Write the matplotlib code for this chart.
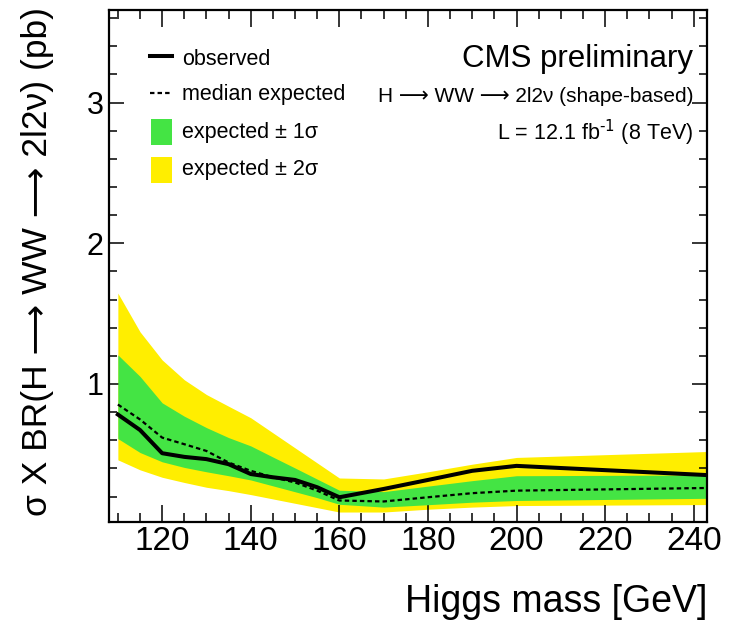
import matplotlib
matplotlib.use("Agg")
import matplotlib.pyplot as plt
from matplotlib.lines import Line2D
from matplotlib.patches import Rectangle
from matplotlib.ticker import MultipleLocator

# ---------------- data ----------------
mass = [110, 115, 120, 125, 130, 135, 140, 145, 150, 155, 160, 170, 180, 190, 200, 250]
observed = [0.783, 0.673, 0.508, 0.482, 0.466, 0.430, 0.360, 0.337, 0.318, 0.266, 0.195,
            0.254, 0.318, 0.383, 0.418, 0.342]
expected = [0.854, 0.748, 0.619, 0.572, 0.524, 0.442, 0.383, 0.337, 0.300, 0.242, 0.172,
            0.165, 0.195, 0.224, 0.242, 0.264]
plus2 = [1.646, 1.371, 1.171, 1.030, 0.925, 0.842, 0.760, 0.653, 0.546, 0.439, 0.332,
         0.325, 0.376, 0.430, 0.478, 0.527]
plus1 = [1.207, 1.054, 0.866, 0.771, 0.690, 0.619, 0.560, 0.481, 0.403, 0.324, 0.245,
         0.235, 0.274, 0.313, 0.348, 0.354]
minus1 = [0.612, 0.513, 0.447, 0.407, 0.376, 0.348, 0.318, 0.276, 0.234, 0.192, 0.145,
          0.125, 0.142, 0.160, 0.172, 0.190]
minus2 = [0.461, 0.390, 0.337, 0.300, 0.266, 0.242, 0.214, 0.183, 0.152, 0.121, 0.090,
          0.090, 0.110, 0.125, 0.136, 0.144]

legend_labels = ["observed", "median expected", "expected \u00b1 1\u03c3", "expected \u00b1 2\u03c3"]
xlabel = "Higgs mass [GeV]"
ylabel = "\u03c3 X BR(H \u27f6 WW \u27f6 2l2\u03bd) (pb)"
title_main = "CMS preliminary"
title_proc = "H \u27f6 WW \u27f6 2l2\u03bd (shape-based)"
title_lumi = "L = 12.1 fb$^{\\text{-1}}$ (8 TeV)"

GREEN = "#44E444"
YELLOW = "#FFEE00"

# ---------------- fonts ----------------
plt.rcParams["font.family"] = ["Liberation Sans", "DejaVu Sans"]
plt.rcParams["mathtext.default"] = "regular"

W, H = 730, 621
fig = plt.figure(figsize=(W / 100, H / 100), dpi=100)
L, R, T, B = 109, 707, 10, 522.3
ax = fig.add_axes([L / W, 1 - B / H, (R - L) / W, (B - T) / H])

ax.fill_between(mass, minus2, plus2, color=YELLOW, lw=0, zorder=1)
ax.fill_between(mass, minus1, plus1, color=GREEN, lw=0, zorder=2)
ax.plot(mass, expected, color="black", lw=1.6, ls=(0, (2, 1.4)), zorder=3)
ax.plot(mass, observed, color="black", lw=2.9, zorder=4)

ax.set_xlim(108, 243)
ax.set_ylim(0.017, 3.658)

ax.xaxis.set_major_locator(MultipleLocator(20))
ax.xaxis.set_minor_locator(MultipleLocator(5))
ax.yaxis.set_major_locator(MultipleLocator(1))
ax.yaxis.set_minor_locator(MultipleLocator(0.2))
ax.tick_params(axis="both", which="both", direction="in", top=True, right=True, width=1.1)
ax.tick_params(axis="x", which="major", length=12.5, pad=3, labelsize=24)
ax.tick_params(axis="x", which="minor", length=6.5)
ax.tick_params(axis="y", which="major", length=11, pad=4, labelsize=22)
ax.tick_params(axis="y", which="minor", length=5.5)
for s in ax.spines.values():
    s.set_linewidth(1.6)

fig.text(R / W, 1 - 612 / H, xlabel, ha="right", va="baseline", fontsize=27)
fig.text(38 / W, 1 - 262 / H, ylabel, ha="center", va="center", rotation=90, fontsize=25.5)

# titles
fig.text(693 / W, 1 - 66.7 / H, title_main, ha="right", va="baseline", fontsize=22.5)
fig.text(693 / W, 1 - 101.7 / H, title_proc, ha="right", va="baseline", fontsize=15)
fig.text(693 / W, 1 - 140 / H, title_lumi, ha="right", va="baseline", fontsize=15.5)

# legend (manual)
tf = fig.transFigure
fig.add_artist(Line2D([150 / W, 172 / W], [1 - 56 / H] * 2, color="black", lw=2.9, transform=tf))
fig.add_artist(Line2D([150 / W, 172 / W], [1 - 93.3 / H] * 2, color="black", lw=1.6,
                      ls=(0, (2, 1.4)), transform=tf))
fig.add_artist(Rectangle((150.7 / W, 1 - 145 / H), 21 / W, 25.7 / H, color=GREEN, lw=0, transform=tf))
fig.add_artist(Rectangle((150.7 / W, 1 - 182.7 / H), 21 / W, 25.4 / H, color=YELLOW, lw=0, transform=tf))
for lab, yb in zip(legend_labels, [65, 100, 138.3, 175]):
    fig.text(181.7 / W, 1 - yb / H, lab, ha="left", va="baseline", fontsize=15.5)

fig.savefig("out.png", dpi=100)
